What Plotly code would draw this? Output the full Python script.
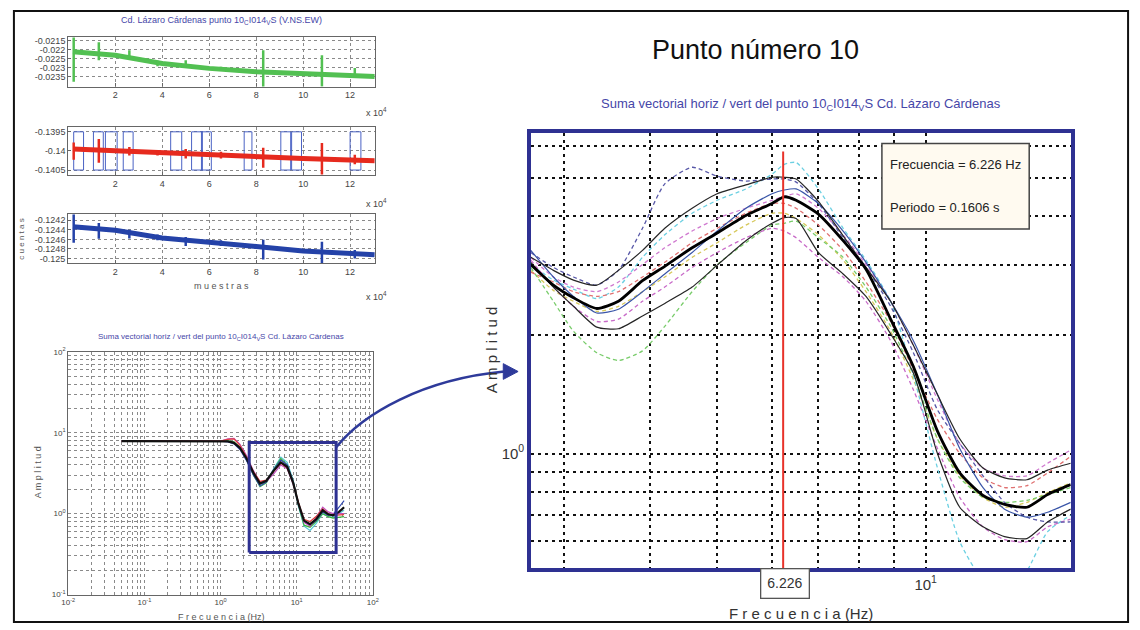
import plotly.graph_objects as go

W, H = 1140, 630

# ---------------- data: three-component records (top-left) ----------------
TS_X = [2000, 20000, 40000, 60000, 80000, 100000, 120000, 130500]
GREEN_TREND = [-0.02213, -0.02232, -0.02277, -0.02304, -0.02322, -0.02331, -0.02342, -0.02349]
RED_TREND = [-0.13995, -0.14000, -0.14005, -0.14010, -0.14015, -0.14020, -0.14024, -0.14026]
BLUE_TREND = [-0.12434, -0.12441, -0.12457, -0.12467, -0.12475, -0.12484, -0.12490, -0.12492]

SPIKE_X = [2300, 13000, 26000, 38000, 50000, 65000, 83000, 108000, 122000]
GREEN_SPIKE_HI = [-0.02107, -0.02161, -0.02204, -0.02262, -0.02259, -0.02295, -0.02204, -0.02232, -0.02302]
GREEN_SPIKE_LO = [-0.02378, -0.02259, -0.02248, -0.02292, -0.02302, -0.02318, -0.02411, -0.02405, -0.02351]
RED_SPIKE_HI = [-0.13978, -0.13969, -0.13990, -0.13998, -0.13995, -0.14002, -0.13992, -0.13979, -0.14010]
RED_SPIKE_LO = [-0.14023, -0.14031, -0.14012, -0.14012, -0.14020, -0.14020, -0.14044, -0.14062, -0.14035]
BLUE_SPIKE_HI = [-0.12408, -0.12426, -0.12440, -0.12450, -0.12455, -0.12462, -0.12461, -0.12465, -0.12482]
BLUE_SPIKE_LO = [-0.12467, -0.12459, -0.12458, -0.12462, -0.12474, -0.12474, -0.12502, -0.12516, -0.12500]

PULSE_START = [2300, 10700, 15800, 23400, 43600, 52500, 56700, 74900, 90500, 95100, 120000]
PULSE_END = [6500, 14900, 20800, 27600, 48300, 57100, 60900, 78200, 94700, 99300, 124600]
PULSE_LOW, PULSE_HIGH = -0.1405, -0.1395

TS_XTICKS = [20000, 40000, 60000, 80000, 100000, 120000]
TS_XTEXT = ["2", "4", "6", "8", "10", "12"]
G_YTICKS = [-0.0235, -0.023, -0.0225, -0.022, -0.0215]
R_YTICKS_TS = [-0.1405, -0.14, -0.1395]
B_YTICKS = [-0.125, -0.1248, -0.1246, -0.1244, -0.1242]

# ---------------- data: H/V spectra, full band (bottom-left) ----------------
LF_FREQ = [0.05, 0.1, 0.3, 0.6, 1.0, 1.25, 1.5, 1.8, 2.2, 2.7, 3.3, 4.0, 5.0, 6.2, 7.5,
           9.0, 10.5, 12.5, 15.0, 18.0, 22.0, 26.0, 30.0, 36.0, 42.0]
LF_MEAN = [7.9, 7.9, 7.9, 7.9, 7.85, 7.8, 7.5, 6.5, 4.8, 3.2, 2.35, 2.55, 3.4, 4.3, 3.8,
           2.4, 1.35, 0.82, 0.74, 0.85, 1.1, 0.98, 0.95, 1.05, 1.2]
LF_GREEN = [7.9, 7.9, 7.9, 7.9, 7.9, 7.95, 7.7, 6.6, 4.6, 3.0, 2.15, 2.4, 3.5, 4.8, 4.0,
            2.5, 1.3, 0.72, 0.68, 0.8, 1.0, 0.92, 0.88, 0.9, 0.92]
LF_MAGENTA = [7.9, 7.9, 7.9, 7.9, 7.9, 8.4, 8.5, 7.2, 5.2, 3.4, 2.45, 2.5, 3.1, 4.0, 3.6,
              2.3, 1.4, 0.78, 0.7, 0.9, 1.2, 1.05, 1.0, 1.0, 1.0]
LF_RED = [7.9, 7.9, 7.9, 7.9, 7.9, 8.3, 8.4, 7.0, 5.0, 3.3, 2.5, 2.6, 3.3, 4.2, 3.7,
          2.4, 1.4, 0.85, 0.8, 0.92, 1.15, 1.0, 0.95, 0.95, 0.97]
LF_BLUE = [7.9, 7.9, 7.9, 7.9, 7.85, 7.7, 7.3, 6.2, 4.5, 3.0, 2.2, 2.45, 3.5, 4.6, 4.0,
           2.5, 1.3, 0.8, 0.72, 0.82, 1.05, 0.95, 0.98, 1.2, 1.45]
LF_CYAN = [7.9, 7.9, 7.9, 7.9, 7.85, 7.8, 7.4, 6.4, 4.7, 3.1, 2.3, 2.5, 3.6, 5.0, 4.3,
           2.6, 1.25, 0.7, 0.62, 0.75, 1.0, 0.92, 0.9, 1.0, 1.1]
ZOOM_F = [2.38, 33.0, 33.0, 2.38, 2.38]
ZOOM_A = [0.33, 0.33, 7.6, 7.6, 0.33]

# ---------------- data: H/V spectra, zoomed (right) ----------------
R_FREQ = [2.69, 2.9, 3.1, 3.35, 3.6, 3.9, 4.2, 4.6, 5.0, 5.5, 6.0, 6.25, 6.5, 7.0, 7.6,
          8.2, 8.9, 9.6, 10.4, 11.2, 12.1, 13.0, 14.0, 15.0, 16.2]
R_MEAN = [3.01, 2.67, 2.48, 2.33, 2.43, 2.74, 2.98, 3.32, 3.62, 4.01, 4.30, 4.47, 4.38, 4.04, 3.46,
          2.93, 2.19, 1.66, 1.14, 0.893, 0.783, 0.743, 0.731, 0.787, 0.834]
R_UPPER = [3.14, 2.91, 2.75, 2.67, 2.91, 3.27, 3.72, 4.18, 4.55, 4.79, 5.01, 5.01, 4.96, 4.35, 3.56,
           2.96, 2.43, 1.88, 1.41, 1.09, 0.919, 0.868, 0.858, 0.908, 0.945]
R_LOWER = [3.05, 2.64, 2.36, 2.09, 2.07, 2.23, 2.40, 2.64, 3.00, 3.46, 3.83, 3.96, 3.94, 3.23, 2.85,
           2.50, 2.01, 1.60, 1.00, 0.731, 0.652, 0.616, 0.609, 0.671, 0.723]
R_NAVY = [3.23, 2.96, 2.80, 2.67, 2.91, 3.72, 4.82, 5.31, 5.04, 4.90, 4.96, 4.96, 4.87, 4.30, 3.52,
          2.96, 2.36, 1.80, 1.29, 1.06, 0.878, 0.752, 0.690, 0.671, 0.671]
R_CYAN = [3.01, 2.75, 2.61, 2.47, 2.64, 3.14, 3.58, 4.06, 4.38, 4.68, 5.10, 5.40, 5.46, 4.68, 3.72,
          3.09, 2.43, 1.58, 0.919, 0.598, 0.476, 0.437, 0.504, 0.634, 0.698]
R_GREEN = [2.96, 2.43, 2.04, 1.80, 1.72, 1.82, 2.10, 2.57, 3.01, 3.42, 3.79, 3.83, 3.88, 3.52, 3.14,
           2.64, 2.10, 1.58, 1.09, 0.868, 0.774, 0.752, 0.761, 0.787, 0.820]
R_MAG_LOW = [3.09, 2.64, 2.36, 2.16, 2.19, 2.43, 2.64, 2.96, 3.23, 3.52, 3.72, 3.66, 3.52, 3.14, 2.80,
             2.43, 1.93, 1.45, 1.03, 0.774, 0.652, 0.605, 0.598, 0.652, 0.682]
R_MAG_UP = [3.14, 2.80, 2.64, 2.57, 2.72, 3.01, 3.32, 3.66, 3.94, 4.18, 4.38, 4.48, 4.55, 4.18, 3.58,
            3.01, 2.43, 1.88, 1.37, 1.06, 0.919, 0.878, 0.878, 0.945, 1.02]
R_RED = [2.88, 2.72, 2.57, 2.50, 2.57, 2.80, 3.05, 3.42, 3.72, 4.06, 4.30, 4.30, 4.18, 3.79, 3.27,
         2.72, 2.16, 1.63, 1.22, 1.00, 0.868, 0.820, 0.829, 0.893, 0.984]
R_YELLOW = [2.91, 2.59, 2.43, 2.29, 2.36, 2.57, 2.80, 3.14, 3.42, 3.79, 4.06, 4.06, 3.94, 3.58, 3.09,
            2.57, 2.04, 1.54, 1.09, 0.878, 0.774, 0.731, 0.752, 0.796, 0.843]
R_BLUE = [3.27, 2.80, 2.50, 2.27, 2.32, 2.57, 2.85, 3.23, 3.66, 4.18, 4.55, 4.65, 4.68, 4.30, 3.66,
          3.05, 2.43, 1.93, 1.41, 1.03, 0.820, 0.723, 0.690, 0.710, 0.752]
PEAK_F = 6.226
PEAK_LINE_A = [0.45, 5.82]
R_XMAJOR = [10]
R_XMAJOR_TEXT = ["10<sup>1</sup>"]
R_XMINOR = [3, 4, 5, 6, 7, 8, 9]
R_YMAJOR = [1]
R_YMAJOR_TEXT = ["10<sup>0</sup>"]
R_YMINOR = [0.6, 0.7, 0.8, 0.9, 2, 3, 4, 5, 6]

# ---------------- helpers ----------------
def px(x):
    return x / W

def py(y):
    return 1 - y / H

SANS = "Liberation Sans, Arial, sans-serif"
NARROW = "Liberation Sans Narrow, Arial Narrow, Liberation Sans, sans-serif"
TITLE_BLUE = "#4646a8"

fig = go.Figure()

# ----- top panels -----
def add_ts(axis_id, trend, color, spike_lo, spike_hi):
    xs, ys = [], []
    for sx, lo, hi in zip(SPIKE_X, spike_lo, spike_hi):
        xs += [sx, sx, None]
        ys += [lo, hi, None]
    fig.add_trace(go.Scatter(x=TS_X, y=trend, mode="lines", line=dict(color=color, width=5),
                             xaxis="x" + axis_id, yaxis="y" + axis_id, hoverinfo="skip"))
    fig.add_trace(go.Scatter(x=xs, y=ys, mode="lines", line=dict(color=color, width=2.5),
                             xaxis="x" + axis_id, yaxis="y" + axis_id, hoverinfo="skip"))

add_ts("", GREEN_TREND, "#52c052", GREEN_SPIKE_LO, GREEN_SPIKE_HI)
pxs, pys = [], []
for s, e in zip(PULSE_START, PULSE_END):
    pxs += [s, s, e, e, s, None]
    pys += [PULSE_LOW, PULSE_HIGH, PULSE_HIGH, PULSE_LOW, PULSE_LOW, None]
fig.add_trace(go.Scatter(x=pxs, y=pys, mode="lines", line=dict(color="#4a62c4", width=1),
                         xaxis="x2", yaxis="y2", hoverinfo="skip"))
add_ts("2", RED_TREND, "#e62a1e", RED_SPIKE_LO, RED_SPIKE_HI)
add_ts("3", BLUE_TREND, "#2442a8", BLUE_SPIKE_LO, BLUE_SPIKE_HI)

# ----- bottom-left spectra -----
for arr, col in [(LF_CYAN, "#55c8d8"), (LF_GREEN, "#3cb43c"), (LF_BLUE, "#3048b0"),
                 (LF_MAGENTA, "#c050c0"), (LF_RED, "#e04040")]:
    fig.add_trace(go.Scatter(x=LF_FREQ, y=arr, mode="lines", line=dict(color=col, width=1.2),
                             xaxis="x4", yaxis="y4", hoverinfo="skip"))
fig.add_trace(go.Scatter(x=LF_FREQ, y=LF_MEAN, mode="lines", line=dict(color="#111111", width=2.2),
                         xaxis="x4", yaxis="y4", hoverinfo="skip"))
fig.add_trace(go.Scatter(x=ZOOM_F, y=ZOOM_A, mode="lines", line=dict(color="#2e3192", width=3),
                         xaxis="x4", yaxis="y4", hoverinfo="skip"))

# ----- right spectra -----
DASH = "4px,3px"
for arr, col in [(R_YELLOW, "#d6c85a"), (R_GREEN, "#78cc6a"), (R_CYAN, "#6cd0e2"),
                 (R_MAG_LOW, "#c86ac8"), (R_MAG_UP, "#d07ad0"), (R_RED, "#e07070"),
                 (R_NAVY, "#5858a8")]:
    fig.add_trace(go.Scatter(x=R_FREQ, y=arr, mode="lines",
                             line=dict(color=col, width=1.3, dash=DASH, shape="spline", smoothing=0.6),
                             xaxis="x5", yaxis="y5", hoverinfo="skip"))
for arr, col in [(R_BLUE, "#3a56a8"), (R_UPPER, "#262626"), (R_LOWER, "#262626")]:
    fig.add_trace(go.Scatter(x=R_FREQ, y=arr, mode="lines",
                             line=dict(color=col, width=1.2, shape="spline", smoothing=0.6),
                             xaxis="x5", yaxis="y5", hoverinfo="skip"))
fig.add_trace(go.Scatter(x=R_FREQ, y=R_MEAN, mode="lines",
                         line=dict(color="#000000", width=2.8, shape="spline", smoothing=0.6),
                         xaxis="x5", yaxis="y5", hoverinfo="skip"))
fig.add_trace(go.Scatter(x=[PEAK_F, PEAK_F], y=PEAK_LINE_A, mode="lines", line=dict(color="#e8322a", width=2),
                         xaxis="x5", yaxis="y5", hoverinfo="skip"))

# ----- axes -----
TS_XDOM = [px(62), px(372)]
tickfont_small = dict(family=SANS, size=9, color="#444")
GRID_L = dict(showgrid=True, gridcolor="#8a8a8a", griddash="dot", gridwidth=1)

def ts_axes(ydom, yr, yt):
    xa = dict(domain=TS_XDOM, range=[0, 130500], tickvals=TS_XTICKS, ticktext=TS_XTEXT,
              showline=True, mirror=True, linecolor="#666", linewidth=1.2,
              ticks="inside", ticklen=3, tickcolor="#666", tickfont=tickfont_small, zeroline=False, **GRID_L)
    ya = dict(domain=ydom, range=yr, tickvals=yt, ticktext=[("%g" % v) for v in yt],
              showline=True, mirror=True, linecolor="#666", linewidth=1.2,
              ticks="inside", ticklen=3, tickcolor="#666", tickfont=tickfont_small, zeroline=False, **GRID_L)
    return xa, ya

xa1, ya1 = ts_axes([py(82), py(32)], [-0.02404, -0.02134], G_YTICKS)
xa2, ya2 = ts_axes([py(172), py(123)], [-0.14063, -0.13937], R_YTICKS_TS)
xa3, ya3 = ts_axes([py(262), py(212)], [-0.12510, -0.12408], B_YTICKS)
xa1.update(anchor="y"); ya1.update(anchor="x")
xa2.update(anchor="y2"); ya2.update(anchor="x2")
xa3.update(anchor="y3"); ya3.update(anchor="x3")

LF_XMAJOR = [0.01, 0.1, 1, 10, 100]
LF_XTEXT = ["10<sup>-2</sup>", "10<sup>-1</sup>", "10<sup>0</sup>", "10<sup>1</sup>", "10<sup>2</sup>"]
LF_XMINOR = [m * 10 ** k for k in range(-2, 2) for m in range(2, 10)]
LF_YMAJOR = [0.1, 1, 10, 100]
LF_YTEXT = ["10<sup>-1</sup>", "10<sup>0</sup>", "10<sup>1</sup>", "10<sup>2</sup>"]
LF_YMINOR = [m * 10 ** k for k in range(-1, 2) for m in range(2, 10)]

MINOR_L = dict(showgrid=True, gridcolor="#8a8a8a", griddash="dot", gridwidth=1, ticks="")
xa4 = dict(domain=[px(62), px(370)], type="log", range=[-2, 2], tickvals=LF_XMAJOR, ticktext=LF_XTEXT,
           minor=dict(tickmode="array", tickvals=LF_XMINOR, **MINOR_L),
           showline=True, mirror=True, linecolor="#666", linewidth=1.2, ticks="",
           tickfont=dict(family=SANS, size=8, color="#444"), anchor="y4", zeroline=False, **GRID_L)
ya4 = dict(domain=[py(599), py(352)], type="log", range=[-1, 2], tickvals=LF_YMAJOR, ticktext=LF_YTEXT,
           minor=dict(tickmode="array", tickvals=LF_YMINOR, **MINOR_L),
           showline=True, mirror=True, linecolor="#666", linewidth=1.2, ticks="",
           tickfont=dict(family=SANS, size=8, color="#444"), anchor="x4", zeroline=False, **GRID_L)

GRID_R = dict(showgrid=True, gridcolor="#111", griddash="3px,4px", gridwidth=1.6)
MINOR_R = dict(showgrid=True, gridcolor="#111", griddash="3px,4px", gridwidth=1.6, ticks="")
xa5 = dict(domain=[px(530), px(1076)], type="log", range=[0.43, 1.2095],
           tickvals=R_XMAJOR, ticktext=R_XMAJOR_TEXT,
           minor=dict(tickmode="array", tickvals=R_XMINOR, **MINOR_R),
           showline=True, mirror=True, linecolor="#2e3192", linewidth=3.5, ticks="",
           tickfont=dict(family=NARROW, size=15, color="#333"), anchor="y5", zeroline=False, **GRID_R)
ya5 = dict(domain=[py(572), py(129)], type="log", range=[-0.29, 0.8125],
           tickvals=R_YMAJOR, ticktext=R_YMAJOR_TEXT,
           minor=dict(tickmode="array", tickvals=R_YMINOR, **MINOR_R),
           showline=True, mirror=True, linecolor="#2e3192", linewidth=3.5, ticks="",
           tickfont=dict(family=NARROW, size=15, color="#333"), anchor="x5", zeroline=False, **GRID_R)

# ----- annotations -----
ann = []
def text(x, y, s, size, color="#333", family=SANS, xanchor="center", angle=0, **kw):
    ann.append(dict(x=px(x), y=py(y), xref="paper", yref="paper", text=s, showarrow=False,
                    xanchor=xanchor, yanchor="middle", textangle=angle,
                    font=dict(family=family, size=size, color=color), **kw))

text(217, 15, "Cd. Lázaro Cárdenas punto 10<sub>C</sub>I014<sub>V</sub>S (V.NS.EW)", 9, TITLE_BLUE)
for yy in (108, 200, 295):
    text(386, yy, "x 10<sup>4</sup>", 9, "#444", xanchor="right")
text(217, 285, "m u e s t r a s", 9, "#555")
text(15, 237, "c u e n t a s", 8, "#555", angle=-90)
text(216, 337, "Suma vectorial horiz / vert del punto 10<sub>C</sub>I014<sub>V</sub>S Cd. Lázaro Cárdenas", 8, TITLE_BLUE)
text(31, 475, "A m p l i t u d", 9, "#555", angle=-90)
text(217, 622, "F r e c u e n c i a (Hz)", 9, "#555")

text(757, 45, "Punto número 10", 27, "#111")
text(803, 100, "Suma vectorial horiz / vert del punto 10<sub>C</sub>I014<sub>V</sub>S Cd. Lázaro Cárdenas", 13, TITLE_BLUE, family=NARROW)
text(891, 161, "Frecuencia = 6.226 Hz", 13, "#222", family=NARROW, xanchor="left")
text(891, 205, "Periodo = 0.1606 s", 13, "#222", family=NARROW, xanchor="left")
text(787, 588, "6.226", 14, "#333", family=NARROW, bordercolor="#555", borderwidth=1.3,
     borderpad=6, bgcolor="white")
text(803, 618, "F r e c u e n c i a (Hz)", 15, "#333", family=NARROW)
text(490, 350, "A m p l i t u d", 15, "#333", family=NARROW, angle=-90)

# ----- shapes -----
def P(x, y):
    return "%.5f,%.5f" % (px(x), py(y))

shapes = [
    dict(type="rect", xref="paper", yref="paper", x0=px(885), x1=px(1034), y0=py(227), y1=py(140),
         fillcolor="#fffaf0", line=dict(color="#444", width=1.5), layer="above"),
    dict(type="path", xref="paper", yref="paper",
         path="M " + P(333, 449) + " C " + P(360, 415) + " " + P(420, 380) + " " + P(503, 372),
         line=dict(color="#2e3a9a", width=2.5)),
    dict(type="path", xref="paper", yref="paper",
         path="M " + P(517, 372) + " L " + P(502, 364) + " L " + P(502, 380) + " Z",
         fillcolor="#2e3a9a", line=dict(color="#2e3a9a", width=1)),
    dict(type="rect", xref="paper", yref="paper", x0=px(7), x1=px(1134), y0=py(627), y1=py(5),
         line=dict(color="#111", width=2)),
]

fig.update_layout(
    width=W, height=H, autosize=False,
    margin=dict(l=0, r=0, t=0, b=0, pad=0),
    paper_bgcolor="white", plot_bgcolor="white",
    showlegend=False,
    xaxis=xa1, yaxis=ya1, xaxis2=xa2, yaxis2=ya2, xaxis3=xa3, yaxis3=ya3,
    xaxis4=xa4, yaxis4=ya4, xaxis5=xa5, yaxis5=ya5,
    annotations=ann, shapes=shapes,
)

fig.write_html("out.html")
